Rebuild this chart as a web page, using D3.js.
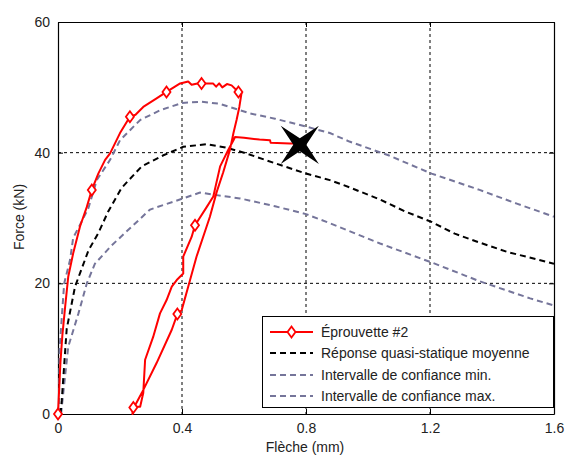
<!DOCTYPE html>
<html><head><meta charset="utf-8">
<script src="https://cdn.jsdelivr.net/npm/d3@7"></script>
<style>body{margin:0;background:#fff}svg{display:block}text{font-family:"Liberation Sans",Arial,sans-serif}</style>
</head><body><svg id="c" width="568" height="455"></svg>
<script>
const xTicks = [0, 0.4, 0.8, 1.2, 1.6];
const yTicks = [0, 20, 40, 60];
const legendLabels = ["Éprouvette #2", "Réponse quasi-statique moyenne", "Intervalle de confiance min.", "Intervalle de confiance max."];

const eprouvette = [
 [0,0],[0.001,1.1],[0.008,8],[0.014,12],[0.023,16.4],[0.033,21],[0.049,24.6],[0.071,28.7],[0.093,31.7],[0.109,34.3],[0.13,36.8],[0.152,38.9],[0.168,39.9],[0.2,43],[0.232,45.5],[0.25,45.8],[0.275,47.0],[0.318,48.3],[0.35,49.3],[0.394,50.6],[0.42,50.9],[0.431,50.4],[0.45,50.6],[0.463,50.6],[0.5,50.6],[0.51,50.1],[0.52,50.6],[0.53,50.0],[0.545,50.5],[0.56,50.3],[0.582,49.3],[0.592,49.1],
 [0.585,47],[0.576,45],[0.566,43],[0.555,40.5],[0.533,37],[0.512,34],[0.49,30.2],[0.447,24.1],[0.426,20.5],[0.399,15.9],[0.385,15.3],[0.367,12.9],[0.318,7.8],[0.27,3.2],[0.245,1],[0.24,0],
 [0.243,1.1],[0.265,1.1],[0.275,3.2],[0.281,8.3],[0.307,11.8],[0.329,15.4],[0.35,17.4],[0.367,19.5],[0.383,20.5],[0.404,21.5],[0.404,24.1],[0.431,27.1],[0.442,28.9],[0.48,31.7],[0.501,33.3],[0.523,37.9],[0.549,40.4],[0.566,41.9],[0.571,42.4],[0.6,42.3],[0.65,42.0],[0.684,41.9],[0.686,41.5],[0.748,41.4],[0.77,41.4]
];
const eprouvetteMarkers = [[0,0],[0.109,34.3],[0.232,45.5],[0.35,49.3],[0.463,50.6],[0.582,49.3],[0.385,15.3],[0.243,1.0],[0.442,28.9]];
const rupture = [[0.78, 41.2]];

const moyenne = [[0.008,0],[0.012,2],[0.028,13],[0.055,19.5],[0.098,25],[0.13,27.7],[0.162,31],[0.205,34.6],[0.27,37.9],[0.34,39.6],[0.404,40.9],[0.48,41.3],[0.54,40.8],[0.6,40],[0.705,38.3],[0.8,36.8],[0.877,35.8],[0.94,34.7],[1.04,32.8],[1.12,31],[1.205,29.4],[1.28,27.6],[1.35,26.4],[1.45,24.8],[1.6,23.0]];
const ciMin = [[0.01,0],[0.012,1],[0.033,10.3],[0.066,15.4],[0.093,20],[0.119,23],[0.173,25.8],[0.227,28.2],[0.297,31.3],[0.404,33.0],[0.458,33.9],[0.512,33.5],[0.587,33.0],[0.7,31.8],[0.8,30.6],[0.877,29.2],[1.039,26.1],[1.205,23.2],[1.361,20.3],[1.523,17.7],[1.6,16.6]];
const ciMax = [[0.003,0],[0.005,10],[0.02,20],[0.039,23.6],[0.049,27],[0.066,28.5],[0.098,31.5],[0.125,35.8],[0.168,38.9],[0.2,41.9],[0.265,45],[0.33,46.5],[0.4,47.6],[0.46,47.8],[0.52,47.5],[0.62,46.0],[0.7,45.2],[0.8,44.0],[0.877,43],[0.94,41.7],[1.066,39.6],[1.205,36.8],[1.36,34.3],[1.48,32.2],[1.6,30.2]];

const svg = d3.select("#c");
const L=58, R=554, T=22, B=414;
const x = d3.scaleLinear().domain([0,1.6]).range([L,R]);
const y = d3.scaleLinear().domain([0,60]).range([B,T]);
const grey = "#75759a";
const FS = 14;

svg.append("clipPath").attr("id","pc").append("rect").attr("x",L).attr("y",T).attr("width",R-L).attr("height",B-T);

// grid
const grid = svg.append("g");
grid.selectAll(".gx").data(xTicks.slice(1,-1)).join("line")
 .attr("x1",d=>x(d)).attr("x2",d=>x(d)).attr("y1",T).attr("y2",B)
 .attr("stroke","#000").attr("stroke-width",1).attr("stroke-dasharray","3,3");
grid.selectAll(".gy").data(yTicks.slice(1,-1)).join("line")
 .attr("y1",d=>y(d)).attr("y2",d=>y(d)).attr("x1",L).attr("x2",R)
 .attr("stroke","#000").attr("stroke-width",1).attr("stroke-dasharray","3,3");

// axes
const fmt = d=>d===0?"0":d3.format("")(d);
const xa = svg.append("g").attr("transform",`translate(0,${B})`).call(d3.axisBottom(x).tickValues(xTicks).tickSizeInner(-5).tickSizeOuter(0).tickPadding(9).tickFormat(fmt));
const xt = svg.append("g").attr("transform",`translate(0,${T})`).call(d3.axisTop(x).tickValues(xTicks).tickSizeInner(-5).tickSizeOuter(0).tickFormat(""));
const ya = svg.append("g").attr("transform",`translate(${L},0)`).call(d3.axisLeft(y).tickValues(yTicks).tickSizeInner(-5).tickSizeOuter(0).tickPadding(8).tickFormat(fmt));
const yr = svg.append("g").attr("transform",`translate(${R},0)`).call(d3.axisRight(y).tickValues(yTicks).tickSizeInner(-5).tickSizeOuter(0).tickFormat(""));
[xa,xt,ya,yr].forEach(g=>{g.selectAll("path").attr("stroke","#000").attr("stroke-width",1.2);g.selectAll("line").attr("stroke","#000");g.selectAll("text").attr("font-size",FS).attr("fill","#222").attr("font-family","Liberation Sans, Arial, sans-serif");});

svg.append("text").attr("x",305).attr("y",452).attr("text-anchor","middle").attr("font-size",FS).attr("fill","#222").text("Flèche (mm)");
svg.append("text").attr("transform","translate(24,217) rotate(-90)").attr("text-anchor","middle").attr("font-size",FS).attr("fill","#222").text("Force (kN)");

const line = d3.line().x(d=>x(d[0])).y(d=>y(d[1]));
const plot = svg.append("g").attr("clip-path","url(#pc)");
plot.append("path").datum(ciMin).attr("d",line).attr("fill","none").attr("stroke",grey).attr("stroke-width",2).attr("stroke-dasharray","6,4");
plot.append("path").datum(ciMax).attr("d",line).attr("fill","none").attr("stroke",grey).attr("stroke-width",2).attr("stroke-dasharray","6,4");
plot.append("path").datum(moyenne).attr("d",line).attr("fill","none").attr("stroke","#000").attr("stroke-width",2).attr("stroke-dasharray","6,4");
svg.append("path").datum(eprouvette).attr("d",line).attr("fill","none").attr("stroke","#ff0000").attr("stroke-width",2).attr("stroke-linejoin","round");

const diamond = "M0,-5.5L4,0L0,5.5L-4,0Z";
svg.selectAll(".mk").data(eprouvetteMarkers).join("path")
 .attr("transform",d=>`translate(${x(d[0])},${y(d[1])})`).attr("d",diamond)
 .attr("fill","#fff").attr("stroke","#ff0000").attr("stroke-width",1.8);

const star = (ro,ri)=>{const p=[];for(let i=0;i<8;i++){const a=Math.PI/4+i*Math.PI/4;const r=i%2===0?ro:ri;p.push([r*Math.cos(a),r*Math.sin(a)]);}return "M"+p.map(q=>q.join(",")).join("L")+"Z";};
svg.selectAll(".st").data(rupture).join("path")
 .attr("transform",d=>`translate(${x(d[0])},${y(d[1])})`).attr("d",star(27,6.5)).attr("fill","#000");

// legend
const lg = svg.append("g");
lg.append("rect").attr("x",262.5).attr("y",316.5).attr("width",291).attr("height",91).attr("fill","#fff").attr("stroke","#000").attr("stroke-width",1);
const ly = [332, 353, 375, 396];
const styles = [{c:"#ff0000",d:null},{c:"#000",d:"6,4"},{c:grey,d:"6,4"},{c:grey,d:"6,4"}];
legendLabels.forEach((t,i)=>{
 const l = lg.append("line").attr("x1",270).attr("x2",313).attr("y1",ly[i]).attr("y2",ly[i]).attr("stroke",styles[i].c).attr("stroke-width",2);
 if(styles[i].d) l.attr("stroke-dasharray",styles[i].d);
 if(i===0) lg.append("path").attr("transform",`translate(291.5,${ly[i]})`).attr("d",diamond).attr("fill","#fff").attr("stroke","#ff0000").attr("stroke-width",1.8);
 lg.append("text").attr("x",321).attr("y",ly[i]+5).attr("font-size",FS).attr("fill","#222").text(t);
});
</script></body></html>
